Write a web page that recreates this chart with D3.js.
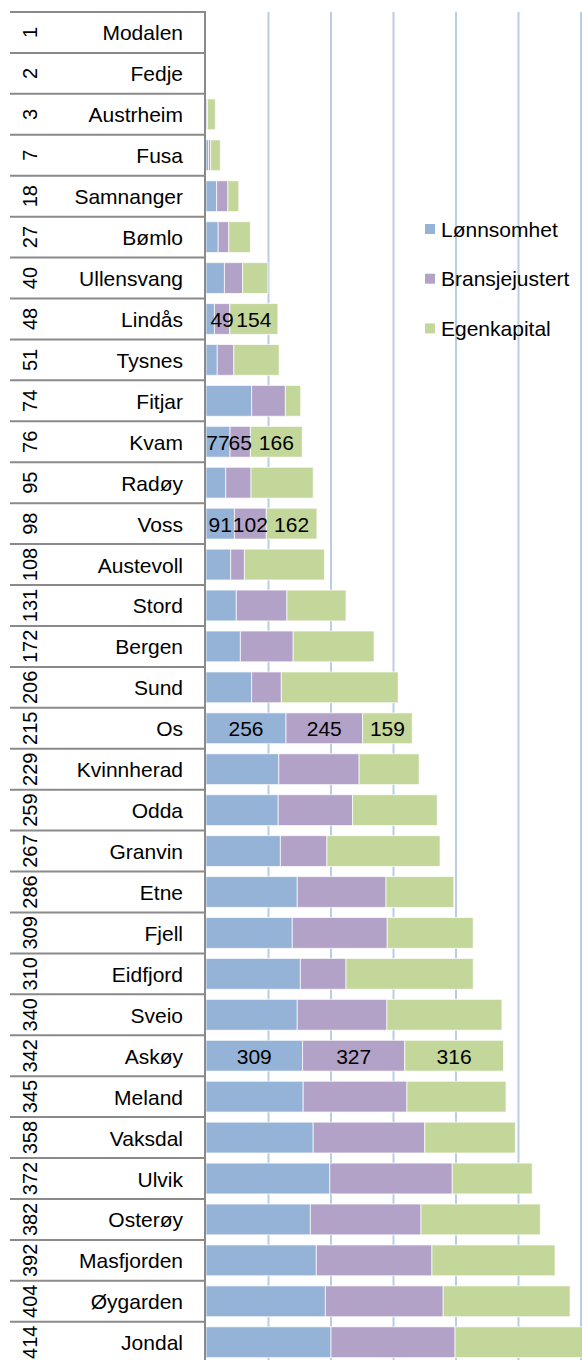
<html><head>
<meta charset="utf-8">
<title>Kommuner</title>
<style>
  body {margin:0; background:#fff;}
  text {font-family: "Liberation Sans", Arial, sans-serif;}
</style>
</head>
<body>
<script src="https://d3js.org/d3.v7.min.js"></script>
<script>
// rangering og kommunenavn
var ranks = [1,2,3,7,18,27,40,48,51,74,76,95,98,108,131,172,206,215,229,259,267,286,309,310,340,342,345,358,372,382,392,404,414];
var names = ["Modalen","Fedje","Austrheim","Fusa","Samnanger","Bømlo","Ullensvang","Lindås","Tysnes","Fitjar","Kvam","Radøy","Voss","Austevoll","Stord","Bergen","Sund","Os","Kvinnherad","Odda","Granvin","Etne","Fjell","Eidfjord","Sveio","Askøy","Meland","Vaksdal","Ulvik","Osterøy","Masfjorden","Øygarden","Jondal"];

// serier
var seriesNames = ["Lønnsomhet","Bransjejustert","Egenkapital"];
var lonnsomhet   = [0,0,1,8,34,39,59,27,36,146,77,63,91,79,97,110,146,256,233,231,238,292,276,302,292,309,311,343,396,334,353,382,400];
var bransjejust  = [0,0,4,7,36,34,58,49,53,108,65,81,102,44,162,169,95,245,257,238,149,284,304,146,287,327,332,357,392,354,370,377,397];
var egenkapital  = [0,0,25,31,35,69,81,154,145,49,166,199,162,256,189,259,374,159,192,271,362,217,275,407,368,316,317,290,256,382,394,406,430];

// rader med verdietiketter (indeks i seriesNames)
var labelRows = [["Lindås",[1,2]],["Kvam",[0,1,2]],["Voss",[0,1,2]],["Os",[0,1,2]],["Askøy",[0,1,2]]];

var xTicks = [200,400,600,800,1000,1200];

var colors = ["#95b3d7","#b3a2c7","#c4d79b"];

var width = 582, height = 1360;
var x0 = 206, topY = 12, rowH = 40.93;

var svg = d3.select("body").append("svg")
    .attr("width", width)
    .attr("height", height);

var rows = names.map(function(n, i){
    return {name:n, rank:ranks[i], v:[lonnsomhet[i], bransjejust[i], egenkapital[i]]};
});

var x = d3.scaleLinear().domain([0,1200]).range([x0, x0 + 375]);
var y = d3.scaleBand()
    .domain(names)
    .range([topY, topY + rowH*names.length])
    .paddingInner(0.247)
    .paddingOuter(0.1235);

// rutenett
svg.append("g").selectAll("line")
    .data(xTicks)
    .enter().append("line")
    .attr("x1", function(d){return x(d);})
    .attr("x2", function(d){return x(d);})
    .attr("y1", topY)
    .attr("y2", height)
    .attr("stroke", "#b9cde5")
    .attr("stroke-width", 2);

// stablede stolper
var stack = d3.stack().keys([0,1,2]).value(function(d,k){return d.v[k];});
var layers = stack(rows);

svg.append("g").selectAll("g")
    .data(layers)
    .enter().append("g")
    .attr("fill", function(d){return colors[d.key];})
    .selectAll("rect")
    .data(function(d){return d;})
    .enter().append("rect")
    .attr("x", function(d){return x(d[0]);})
    .attr("y", function(d){return y(d.data.name);})
    .attr("width", function(d){return Math.max(0, x(d[1]) - x(d[0]));})
    .attr("height", y.bandwidth())
    .attr("stroke", "rgba(255,255,255,0.7)")
    .attr("stroke-width", function(d){return d[1] > d[0] ? 1 : 0;});

// verdietiketter
labelRows.forEach(function(lr){
    var i = names.indexOf(lr[0]);
    lr[1].forEach(function(k){
        var seg = layers[k][i];
        svg.append("text")
            .attr("x", (x(seg[0]) + x(seg[1]))/2)
            .attr("y", y(lr[0]) + y.bandwidth()/2 + 8)
            .attr("text-anchor", "middle")
            .attr("font-size", 21)
            .attr("fill", "#000")
            .text(rows[i].v[k]);
    });
});

// tabell til venstre
var table = svg.append("g");
d3.range(names.length).forEach(function(i){
    var yy = topY + i*rowH;
    table.append("line")
        .attr("x1", 10).attr("x2", x0 - 1)
        .attr("y1", yy).attr("y2", yy)
        .attr("stroke", "#8a8a8a").attr("stroke-width", 2);
});
table.selectAll("text.name")
    .data(rows)
    .enter().append("text")
    .attr("class", "name")
    .attr("x", 183)
    .attr("y", function(d){return y(d.name) + y.bandwidth()/2 + 8;})
    .attr("text-anchor", "end")
    .attr("font-size", 21)
    .text(function(d){return d.name;});
table.selectAll("text.rank")
    .data(rows)
    .enter().append("text")
    .attr("class", "rank")
    .attr("transform", function(d){
        return "translate(30," + (y(d.name) + y.bandwidth()/2) + ") rotate(-90)";
    })
    .attr("text-anchor", "middle")
    .attr("dy", "0.35em")
    .attr("font-size", 20)
    .text(function(d){return d.rank;});

// akselinje
svg.append("line")
    .attr("x1", x0 - 1).attr("x2", x0 - 1)
    .attr("y1", topY - 1).attr("y2", height)
    .attr("stroke", "#8a8a8a").attr("stroke-width", 2);

// forklaring
var legend = svg.append("g").selectAll("g")
    .data(seriesNames)
    .enter().append("g")
    .attr("transform", function(d,i){return "translate(425," + (229 + i*49.7) + ")";});
legend.append("rect")
    .attr("x", 0).attr("y", -5)
    .attr("width", 10).attr("height", 10)
    .attr("fill", function(d,i){return colors[i];});
legend.append("text")
    .attr("x", 16)
    .attr("y", 7.5)
    .attr("font-size", 21)
    .text(function(d){return d;});
</script>
</body></html>
